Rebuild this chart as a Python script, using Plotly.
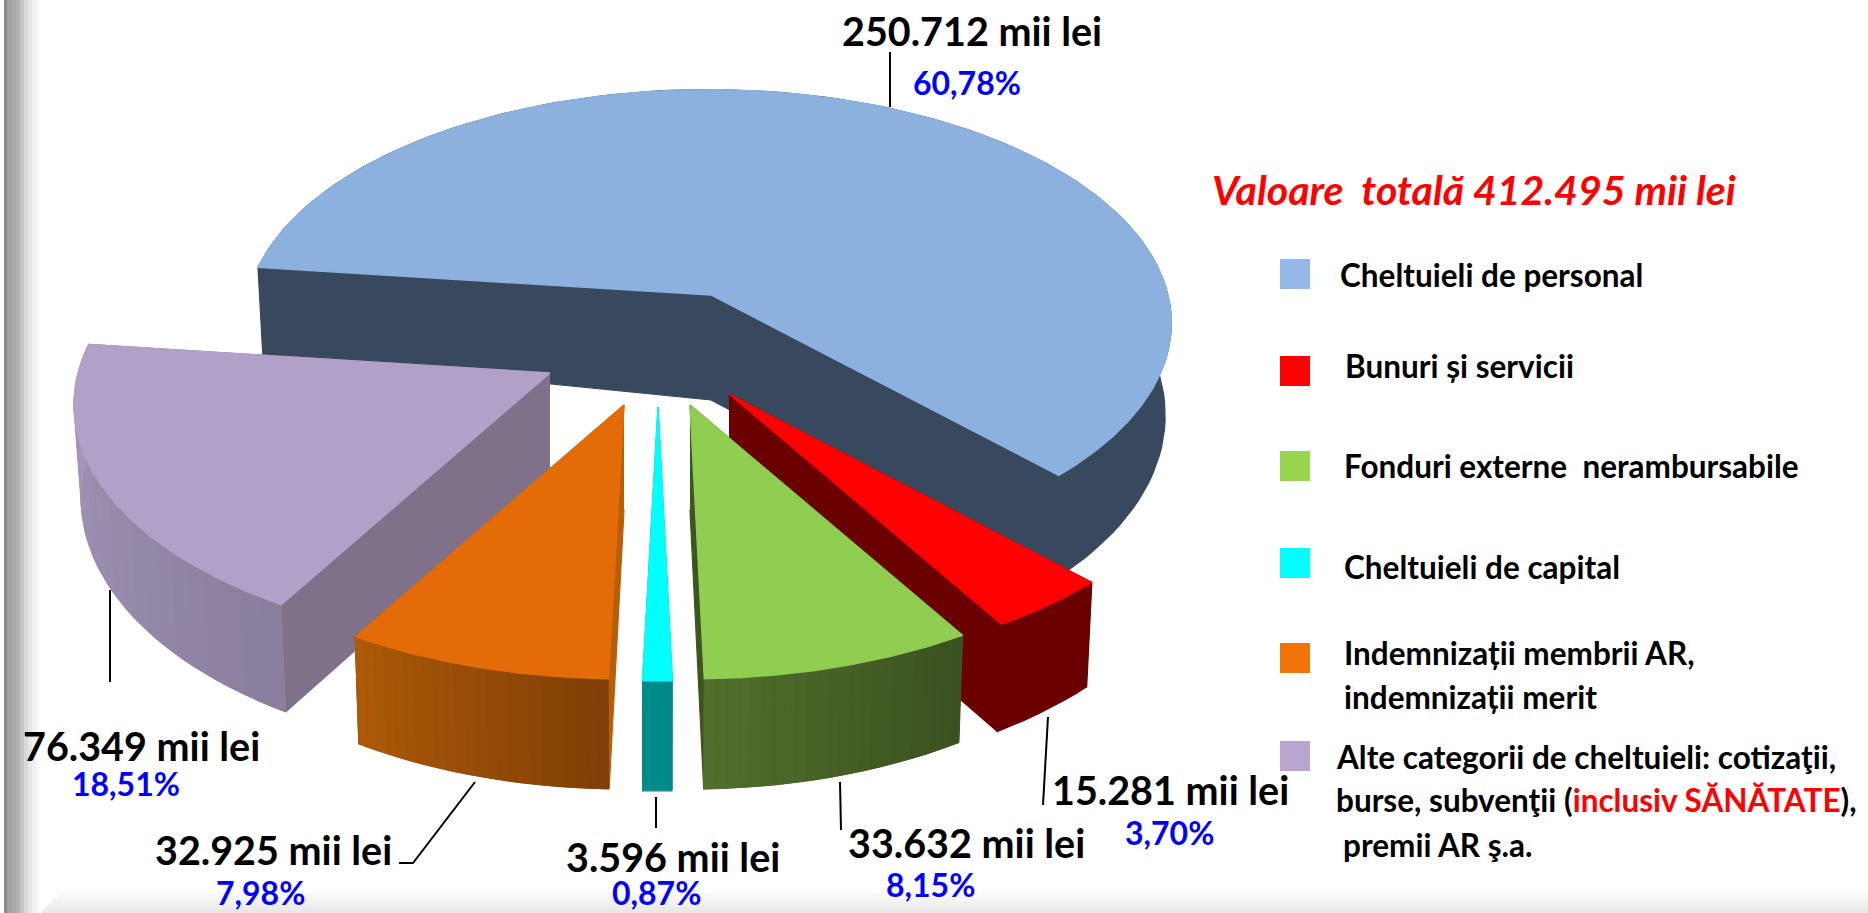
import math
import plotly.graph_objects as go

# ---------- data ----------
categories = ["Cheltuieli de personal", "Bunuri și servicii", "Fonduri externe  nerambursabile",
              "Cheltuieli de capital", "Indemnizații membrii AR, indemnizații merit",
              "Alte categorii de cheltuieli"]
values = [250712, 15281, 33632, 3596, 32925, 76349]
value_labels = ["250.712 mii lei", "15.281 mii lei", "33.632 mii lei",
                "3.596 mii lei", "32.925 mii lei", "76.349 mii lei"]
percent_labels = ["60,78%", "3,70%", "8,15%", "0,87%", "7,98%", "18,51%"]
total_label = "Valoare  totală 412.495 mii lei"

# ---------- style ----------
W, H = 1868, 913
START_BEARING = 277.0
BLUE = dict(R=460, p=0.12, k=0.50, dx=-3)
REST = dict(R=472, p=0.13, k=0.505, dx=0)
apex = [(711, 295), (729, 394), (690, 405), (658, 407), (624, 405), (550, 373)]
top_col = ["#8cb1df", "#ff0000", "#8fce50", "#00ffff", "#e36c09", "#b1a0c7"]
rim_a = ["#39495d", "#6b0000", "#506f2b", "#008b8b", "#ad5908", "#a898bd"]
rim_b = ["#39495d", "#6b0000", "#3b5120", "#008b8b", "#803f06", "#8a7f9c"]
cut_col = ["#39495d", "#6b0000", "#3d5620", "#008b8b", "#b85e0a", "#7f7189"]
APEX_DEPTH = 105
VANISH_X = 660
draw_order = [0, 1, 5, 2, 4, 3]
FONT = "Lato"


def hex2rgb(h):
    return tuple(int(h[i:i + 2], 16) for i in (1, 3, 5))


def mix(a, b, t):
    ra, rb = hex2rgb(a), hex2rgb(b)
    return "rgb(%d,%d,%d)" % tuple(round(ra[i] + (rb[i] - ra[i]) * t) for i in range(3))


def project(i, bearing):
    """Point on the rim of slice i at a clockwise bearing from 'back'."""
    g = BLUE if i == 0 else REST
    t = math.radians(bearing)
    u, v = math.sin(t), math.cos(t)
    s = 1 / (1 + g["p"] * v)
    return apex[i][0] + g["dx"] + g["R"] * s * u, apex[i][1] - g["R"] * g["k"] * s * v, v


def drop(x, y, v):
    d = 90 - 20 * v
    return x + (VANISH_X - x) * 0.012, y + d


def poly(xs, ys, color, lw=1.2):
    return go.Scatter(x=xs, y=ys, mode="lines", fill="toself", fillcolor=color,
                      line=dict(color=color, width=lw), hoverinfo="skip", showlegend=False)


def wall(i, c0, c1):
    m = max(2, int(abs(c1 - c0) / 2) + 2)
    up = [project(i, c0 + (c1 - c0) * j / (m - 1)) for j in range(m)]
    dn = [drop(*p) for p in up]
    return ([p[0] for p in up] + [p[0] for p in reversed(dn)],
            [p[1] for p in up] + [p[1] for p in reversed(dn)])


total = sum(values)
edges = [START_BEARING]
for val in values:
    edges.append(edges[-1] + val / total * 360)

traces = []
for i in draw_order:
    b0, b1 = edges[i], edges[i + 1]
    ax, ay = apex[i]
    # cut faces
    for b in (b1, b0):
        x, y, v = project(i, b)
        xb, yb = drop(x, y, v)
        traces.append(poly([ax, x, xb, ax], [ay, y, yb, ay + APEX_DEPTH], cut_col[i]))
    # outer wall: a flat base, then shading steps
    xs, ys = wall(i, b0, b1)
    traces.append(poly(xs, ys, mix(rim_a[i], rim_b[i], 0.5)))
    if rim_a[i] != rim_b[i]:
        n = 24
        for s in range(n):
            c0 = b0 + (b1 - b0) * s / n
            c1 = b0 + (b1 - b0) * (s + 1) / n
            xs, ys = wall(i, c0, c1)
            traces.append(poly(xs, ys, mix(rim_a[i], rim_b[i], 1 - s / (n - 1)), lw=0.8))
    # top face
    m = max(3, int((b1 - b0) * 2))
    rim = [project(i, b0 + (b1 - b0) * j / (m - 1)) for j in range(m)]
    traces.append(poly([ax] + [p[0] for p in rim] + [ax], [ay] + [p[1] for p in rim] + [ay], top_col[i], lw=1.3))

# leader lines
leaders = [([890, 890], [52, 107]), ([1048, 1043], [717, 805]), ([840, 841], [782, 830]),
           ([656, 656], [797, 828]), ([475, 413, 399], [782, 863, 863]), ([110, 110], [590, 682])]
for lx, ly in leaders:
    traces.append(go.Scatter(x=lx, y=ly, mode="lines", line=dict(color="#000000", width=2),
                             hoverinfo="skip", showlegend=False))

fig = go.Figure(traces)

# ---------- background bevel ----------
shapes = []
left_band = [(4, "#8a8a8a"), (7, "#a3a3a3"), (12, "#aaaaaa"), (16, "#b2b2b2"), (20, "#c6c6c6"),
             (24, "#d8d8d8"), (28, "#e6e6e6"), (32, "#f0f0f0"), (36, "#f9f9f9")]
for n, (x0, c) in enumerate(left_band):
    x1 = left_band[n + 1][0] if n + 1 < len(left_band) else 39
    shapes.append(dict(type="rect", x0=x0, x1=x1, y0=0, y1=H, fillcolor=c, line_width=0, layer="below"))
for j in range(7):
    y0 = 892 + j * 3
    g = 250 - j * 3
    inset = 60 - j * 3
    shapes.append(dict(type="rect", x0=inset, x1=W, y0=y0, y1=y0 + 3,
                       fillcolor=f"rgb({g},{g},{g})", line_width=0, layer="below"))

# ---------- legend swatches ----------
swatch_col = ["#94b8e8", "#ff0000", "#98d650", "#00ffff", "#f07408", "#b8a6d0"]
swatch_y = [259, 356, 451, 548, 643, 741]
for c, y in zip(swatch_col, swatch_y):
    shapes.append(dict(type="rect", x0=1280, x1=1310, y0=y, y1=y + 30, fillcolor=c, line_width=0))

# ---------- texts ----------
ann = []


def text(x, y, s, size, color="#000000", anchor="center"):
    ann.append(dict(x=x, y=y, text=s, xref="x", yref="y", showarrow=False, xanchor=anchor, yanchor="middle",
                    font=dict(family=FONT, size=size, color=color)))


value_pos = [(972, 30), (1170, 789), (966, 842), (673, 856), (273, 849), (141, 745)]
pct_pos = [(967, 82), (1169, 832), (930, 884), (656, 892), (260, 892), (126, 783)]
for s, (x, y) in zip(value_labels, value_pos):
    text(x, y, f"<b>{s}</b>", 39.5)
for s, (x, y) in zip(percent_labels, pct_pos):
    text(x, y, f"<b>{s}</b>", 32, "#0000ff")
text(1474, 189, f"<b><i>{total_label}</i></b>", 41, "#ff0000")

legend_lines = [
    (1338, 275, "Cheltuieli de personal"),
    (1343, 366, "Bunuri și servicii"),
    (1342, 466, "Fonduri externe  nerambursabile"),
    (1342, 567, "Cheltuieli de capital"),
    (1342, 653, "Indemnizații membrii AR,"),
    (1342, 697, "indemnizații merit"),
    (1334, 757, "Alte categorii de cheltuieli: cotizaţii,"),
    (1334, 800, 'burse, subvenţii (<span style="color:#ff0000">inclusiv SĂNĂTATE</span>),'),
    (1341, 845, "premii AR ş.a."),
]
for x, y, s in legend_lines:
    text(x, y, f"<b>{s}</b>", 31.5, anchor="left")

fig.update_layout(
    width=W, height=H, margin=dict(l=0, r=0, t=0, b=0), autosize=False,
    paper_bgcolor="#ffffff", plot_bgcolor="#ffffff", showlegend=False,
    xaxis=dict(range=[0, W], visible=False, fixedrange=True),
    yaxis=dict(range=[H, 0], visible=False, fixedrange=True),
    shapes=shapes, annotations=ann,
)
fig.write_html("out.html", config={"displayModeBar": False},
               post_script="document.body.style.margin='0';document.documentElement.style.overflow='hidden';")
